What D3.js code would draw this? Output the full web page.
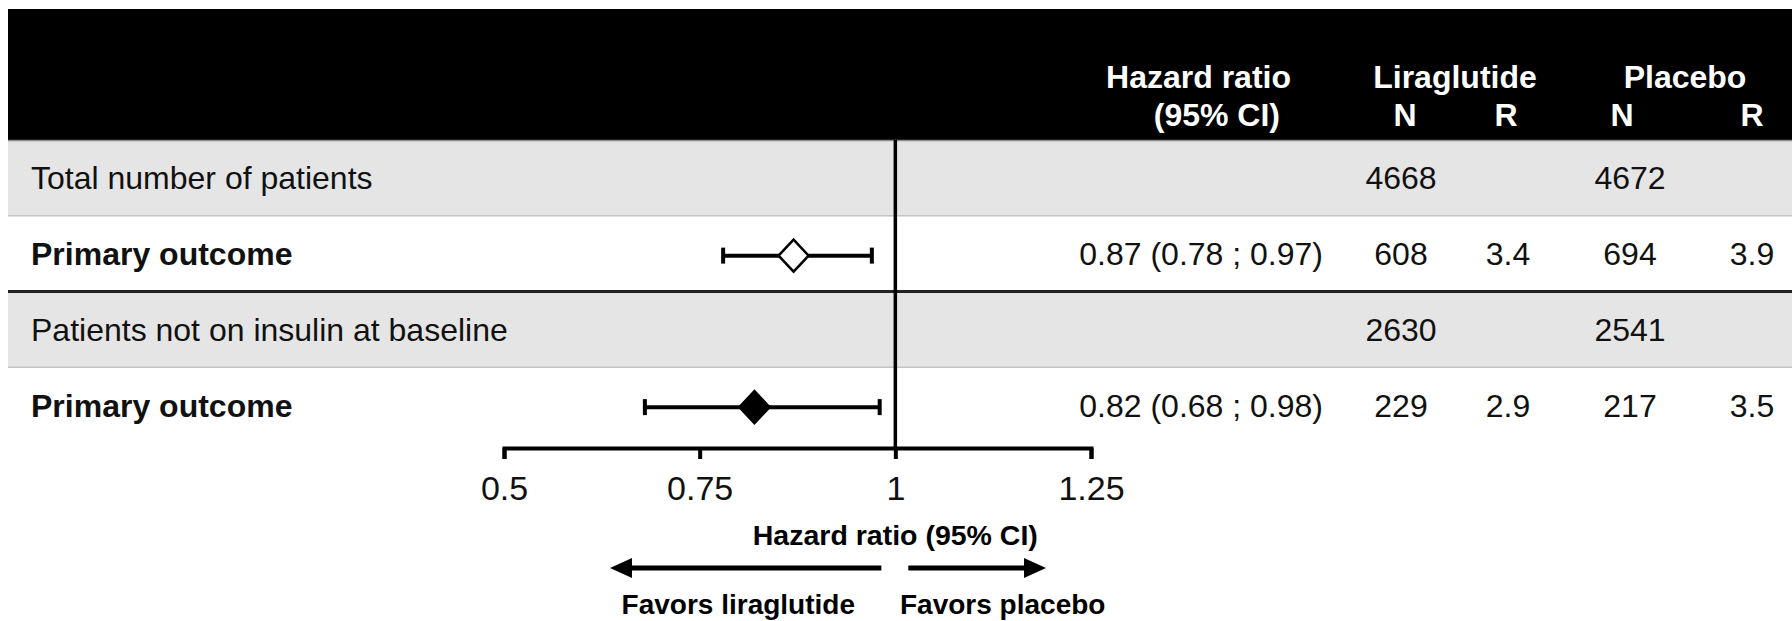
<!DOCTYPE html>
<html>
<head>
<meta charset="utf-8">
<script src="https://cdn.jsdelivr.net/npm/d3@7"></script>
<style>
  html, body { margin: 0; padding: 0; background: #fff; }
  svg { display: block; font-family: "Liberation Sans", Arial, sans-serif; }
</style>
</head>
<body>
<svg id="chart" width="1792" height="621"></svg>
<script>
// Table rows: a subgroup header row followed by its primary-outcome row
const rowLabels = ["Total number of patients", "Primary outcome", "Patients not on insulin at baseline", "Primary outcome"];
const rowKinds  = ["group", "outcome", "group", "outcome"];

// Hazard ratios with 95% confidence limits (outcome rows only)
const hazardRatio = [null, 0.87, null, 0.82];
const ciLower     = [null, 0.78, null, 0.68];
const ciUpper     = [null, 0.97, null, 0.98];

// Patient counts (N) and event rates (R) per arm
const liraN    = [4668, 608, 2630, 229];
const liraR    = [null, 3.4, null, 2.9];
const placeboN = [4672, 694, 2541, 217];
const placeboR = [null, 3.9, null, 3.5];

// Axis ticks
const tickValues = [0.5, 0.75, 1, 1.25];
const tickLabels = ["0.5", "0.75", "1", "1.25"];

const W = 1792, H = 621;
const svg = d3.select("#chart");
const fmt1 = d3.format(".1f");
const fmt2 = d3.format(".2f");

// Scales
const x = d3.scaleLinear().domain([0.5, 1.25]).range([504, 1091]);
const y = d3.scaleBand().domain(d3.range(rowLabels.length)).range([140, 443]);
const rowMid = i => y(i) + y.bandwidth() / 2;

// Column centres for the count/rate table
const colLiraN = 1401, colLiraR = 1508, colPlaN = 1630, colPlaR = 1752;

// Header band
svg.append("rect").attr("x", 8).attr("y", 9).attr("width", W - 8).attr("height", 131).attr("fill", "#000");

const head = svg.append("g").attr("fill", "#fff").attr("font-weight", "bold").attr("font-size", 32);
head.append("text").attr("x", 1291).attr("y", 88).attr("text-anchor", "end").text("Hazard ratio");
head.append("text").attr("x", 1280).attr("y", 126).attr("text-anchor", "end").text("(95% CI)");
head.append("text").attr("x", 1455).attr("y", 88).attr("text-anchor", "middle").text("Liraglutide");
head.append("text").attr("x", 1685).attr("y", 88).attr("text-anchor", "middle").text("Placebo");
[[1405, "N"], [1506, "R"], [1622, "N"], [1752, "R"]].forEach(([cx, t]) => {
  head.append("text").attr("x", cx).attr("y", 126).attr("text-anchor", "middle").text(t);
});

// Row backgrounds
svg.append("g").selectAll("rect")
  .data(d3.range(rowLabels.length))
  .join("rect")
  .attr("x", 8).attr("y", i => y(i))
  .attr("width", W - 8).attr("height", y.bandwidth())
  .attr("fill", i => rowKinds[i] === "group" ? "#e5e5e5" : "#fff");

// Row separators
svg.append("line").attr("x1", 8).attr("x2", W).attr("y1", 140.5).attr("y2", 140.5).attr("stroke", "#8a8a8a").attr("stroke-width", 1.5);
svg.append("g").selectAll("line")
  .data(d3.range(1, rowLabels.length))
  .join("line")
  .attr("x1", 8).attr("x2", W)
  .attr("y1", i => y(i)).attr("y2", i => y(i))
  .attr("stroke", i => rowKinds[i] === "group" ? "#222" : "#c4c4c4")
  .attr("stroke-width", i => rowKinds[i] === "group" ? 3 : 1.5);

// Row labels
svg.append("g").selectAll("text")
  .data(d3.range(rowLabels.length))
  .join("text")
  .attr("x", 31).attr("y", i => rowMid(i)).attr("dy", "0.36em")
  .attr("font-size", 32)
  .attr("font-weight", i => rowKinds[i] === "outcome" ? "bold" : "normal")
  .attr("fill", "#111")
  .text(i => rowLabels[i]);

// Table values
const cells = svg.append("g").attr("font-size", 32).attr("fill", "#111").attr("text-anchor", "middle");
const columns = [[liraN, colLiraN, d => d], [liraR, colLiraR, fmt1], [placeboN, colPlaN, d => d], [placeboR, colPlaR, fmt1]];
columns.forEach(([arr, cx, f]) => {
  cells.selectAll(null)
    .data(d3.range(arr.length).filter(i => arr[i] != null))
    .join("text")
    .attr("x", cx).attr("y", i => rowMid(i)).attr("dy", "0.36em")
    .text(i => f(arr[i]));
});
cells.selectAll(null)
  .data(d3.range(hazardRatio.length).filter(i => hazardRatio[i] != null))
  .join("text")
  .attr("x", 1323).attr("y", i => rowMid(i)).attr("dy", "0.36em")
  .attr("text-anchor", "end")
  .text(i => `${fmt2(hazardRatio[i])} (${fmt2(ciLower[i])} ; ${fmt2(ciUpper[i])})`);

// Reference line at HR = 1
svg.append("line")
  .attr("x1", x(1)).attr("x2", x(1))
  .attr("y1", 140).attr("y2", 449)
  .attr("stroke", "#000").attr("stroke-width", 3.5);

// Confidence intervals and point estimates
const est = d3.range(hazardRatio.length).filter(i => hazardRatio[i] != null);
const ci = svg.append("g").attr("stroke", "#000");
ci.selectAll("line.ci")
  .data(est).join("line").attr("class", "ci")
  .attr("x1", i => x(ciLower[i])).attr("x2", i => x(ciUpper[i]))
  .attr("y1", i => rowMid(i) + 2).attr("y2", i => rowMid(i) + 2)
  .attr("stroke-width", 4);
ci.selectAll("line.capL")
  .data(est).join("line").attr("class", "capL")
  .attr("x1", i => x(ciLower[i])).attr("x2", i => x(ciLower[i]))
  .attr("y1", i => rowMid(i) + 2 - 8).attr("y2", i => rowMid(i) + 2 + 8)
  .attr("stroke-width", 4);
ci.selectAll("line.capR")
  .data(est).join("line").attr("class", "capR")
  .attr("x1", i => x(ciUpper[i])).attr("x2", i => x(ciUpper[i]))
  .attr("y1", i => rowMid(i) + 2 - 8).attr("y2", i => rowMid(i) + 2 + 8)
  .attr("stroke-width", 4);
ci.selectAll("path.est")
  .data(est).join("path").attr("class", "est")
  .attr("d", i => {
    const cx = x(hazardRatio[i]), cy = rowMid(i) + 2;
    return `M${cx - 15},${cy}L${cx},${cy - 16}L${cx + 15},${cy}L${cx},${cy + 16}Z`;
  })
  .attr("fill", (i, k) => k === 0 ? "#fff" : "#000")
  .attr("stroke-width", 2.5)
  .attr("stroke-linejoin", "miter");

// Axis
const axis = d3.axisBottom(x)
  .tickValues(tickValues)
  .tickFormat((d, i) => tickLabels[i])
  .tickSize(11)
  .tickSizeOuter(11);
const ax = svg.append("g").attr("transform", "translate(0,448)").call(axis);
ax.select(".domain").attr("stroke", "#000").attr("stroke-width", 4);
ax.selectAll(".tick line").attr("stroke", "#000").attr("stroke-width", 4);
ax.selectAll(".tick text")
  .attr("y", 52).attr("dy", 0)
  .attr("font-size", 34).attr("font-family", "'Liberation Sans', Arial, sans-serif")
  .attr("fill", "#111");

// Axis title
svg.append("text")
  .attr("x", x(1)).attr("y", 545)
  .attr("text-anchor", "middle")
  .attr("font-size", 28.5).attr("font-weight", "bold")
  .text("Hazard ratio (95% CI)");

// Direction arrows
const arrowY = 568;
function arrow(x1, x2) {
  const dir = Math.sign(x2 - x1);
  const g = svg.append("g");
  g.append("line").attr("x1", x1).attr("x2", x2 - dir * 18)
    .attr("y1", arrowY).attr("y2", arrowY)
    .attr("stroke", "#000").attr("stroke-width", 5);
  g.append("path")
    .attr("d", `M${x2},${arrowY}L${x2 - dir * 22},${arrowY - 10}L${x2 - dir * 22},${arrowY + 10}Z`)
    .attr("fill", "#000");
}
arrow(x(1) - 14, 610);
arrow(x(1) + 13, 1046);

svg.append("text")
  .attr("x", 855).attr("y", 614).attr("text-anchor", "end")
  .attr("font-size", 28).attr("font-weight", "bold")
  .text("Favors liraglutide");
svg.append("text")
  .attr("x", 900).attr("y", 614).attr("text-anchor", "start")
  .attr("font-size", 28).attr("font-weight", "bold")
  .text("Favors placebo");
</script>
</body>
</html>
